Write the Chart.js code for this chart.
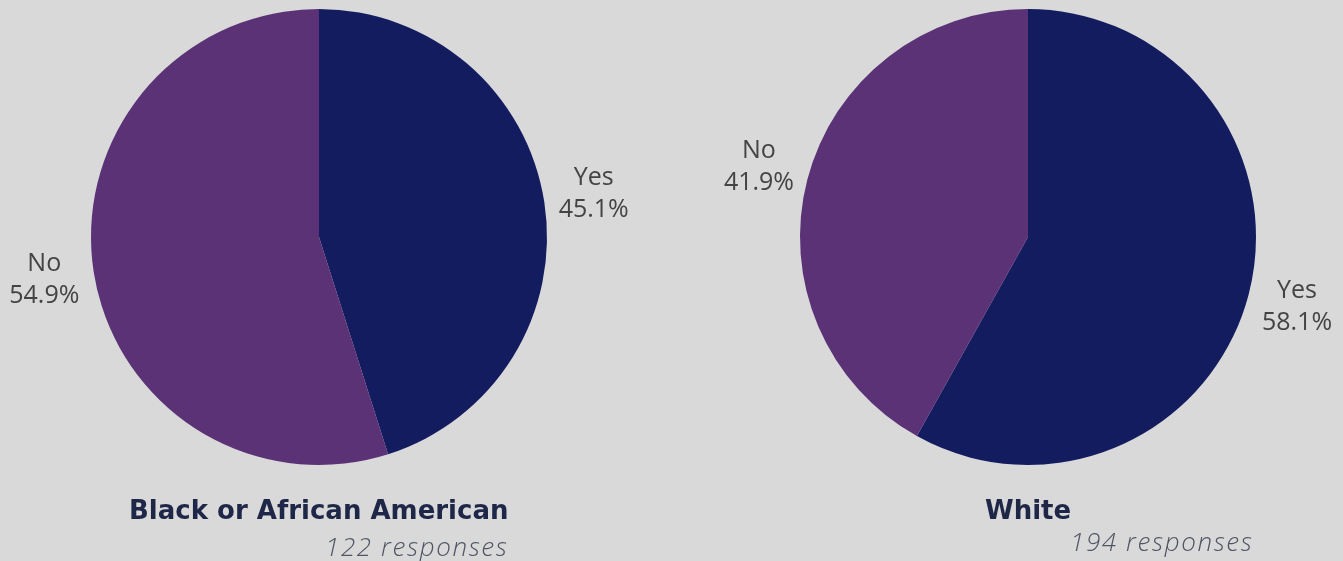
<!DOCTYPE html>
<html>
<head>
<meta charset="utf-8">
<script src="https://cdn.jsdelivr.net/npm/chart.js@4/dist/chart.umd.min.js"></script>
<style>
  html, body { margin: 0; padding: 0; background: #d9d9d9; }
  #wrap { position: relative; width: 1343px; height: 561px; overflow: hidden; background: #d9d9d9; }
  .pane { position: absolute; top: 0; height: 561px; }
  .title { position: absolute; font-family: "DejaVu Sans", sans-serif; font-weight: bold; font-size: 26px; color: #1f2748; white-space: nowrap; }
  .count { position: absolute; font-family: "Open Sans", sans-serif; font-style: italic; font-weight: 300; font-size: 26px; letter-spacing: 1.6px; color: #505564; white-space: nowrap; }
</style>
</head>
<body>
<div id="wrap">
  <div class="pane" style="left:0;width:672px"><canvas id="pieBlack" width="672" height="561"></canvas></div>
  <div class="pane" style="left:672px;width:671px"><canvas id="pieWhite" width="671" height="561"></canvas></div>
  <div class="title" id="t1" style="top:495px">Black or African American</div>
  <div class="count" id="c1" style="top:528px">122 responses</div>
  <div class="title" id="t2" style="top:495px">White</div>
  <div class="count" id="c2" style="top:523px">194 responses</div>
</div>
<script>
// ========== DATA ==========
const answers = ['Yes', 'No'];
const blackPct = [45.1, 54.9];
const whitePct = [58.1, 41.9];
const sliceColors = ['#141c60', '#5c3277'];

// ========== OUTSIDE LABELS ==========
const outsideLabels = {
  id: 'outsideLabels',
  afterDatasetsDraw(chart) {
    const ctx = chart.ctx;
    const ds = chart.data.datasets[0];
    chart.getDatasetMeta(0).data.forEach((arc, i) => {
      const mid = (arc.startAngle + arc.endAngle) / 2;
      const d = arc.outerRadius + 50;
      const x = arc.x + Math.cos(mid) * d;
      const y = arc.y + Math.sin(mid) * d;
      ctx.save();
      ctx.font = '25px "Open Sans", sans-serif';
      ctx.fillStyle = '#444444';
      ctx.textAlign = 'center';
      ctx.textBaseline = 'middle';
      ctx.fillText(chart.data.labels[i], x, y - 16);
      ctx.fillText(ds.data[i].toFixed(1) + '%', x, y + 16);
      ctx.restore();
    });
  }
};

function makePie(id, values, pad) {
  return new Chart(document.getElementById(id), {
    type: 'pie',
    data: {
      labels: answers,
      datasets: [{ data: values, backgroundColor: sliceColors, borderWidth: 0 }]
    },
    options: {
      responsive: false,
      animation: false,
      layout: { padding: pad },
      plugins: { legend: { display: false }, tooltip: { enabled: false } }
    },
    plugins: [outsideLabels]
  });
}

makePie('pieBlack', blackPct, { left: 91, top: 9, right: 125, bottom: 96 });
makePie('pieWhite', whitePct, { left: 128, top: 9, right: 87, bottom: 96 });

// titles centred under each pie, counts right-aligned
function place(id, x, align) {
  const el = document.getElementById(id);
  const w = el.offsetWidth;
  el.style.left = (align === 'center' ? x - w / 2 : x - w) + 'px';
}
place('t1', 319, 'center');
place('c1', 508, 'right');
place('t2', 1028, 'center');
place('c2', 1253, 'right');
</script>
</body>
</html>
